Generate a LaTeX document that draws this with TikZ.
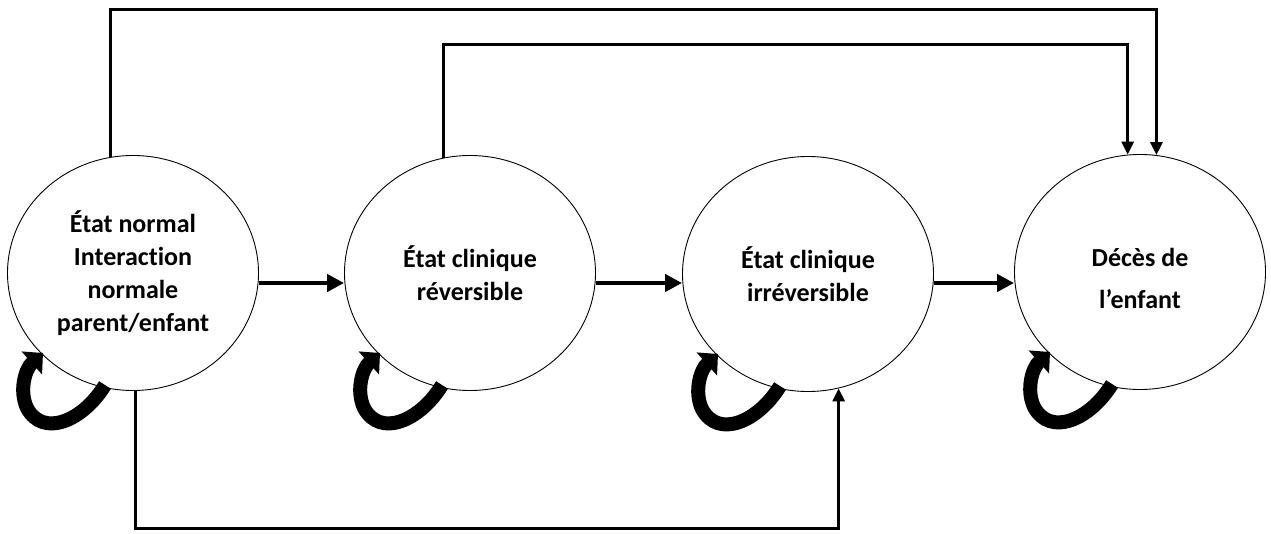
\documentclass[tikz,border=0pt]{standalone}
\usepackage{fontspec}
\setmainfont{Carlito}[Ligatures=NoCommon]
\usetikzlibrary{shapes.geometric,arrows.meta,calc}
\begin{document}
\begin{tikzpicture}[x=1pt,y=-1pt,
  txt/.style={font=\fontsize{26}{33}\selectfont\bfseries,align=center},
  state/.style={draw,ellipse,line width=0.9pt,minimum width=251pt,minimum height=235pt,inner sep=0pt,txt},
  harrow/.style={line width=4.5pt,-{Triangle[width=17pt,length=17pt]}},
  link/.style={line width=3pt,-{Triangle[width=12pt,length=13pt]}},
  selfloop/.style={line width=14pt,-{Triangle[width=30pt,length=15pt]}}]
\useasboundingbox (0,0) rectangle (1271,534);
\node[state] (c1) at (133,273) {État normal\\Interaction\\normale\\parent/enfant};
\node[state] (c2) at (470,273) {État clinique\\réversible};
\node[state] (c3) at (808,274) {État clinique\\irréversible};
\node[state] (c4) at (1140,272) {};
\node[txt,inner sep=0pt] (c4t) at (1140,278.5) {Décès de\\[9pt]l’enfant};
% horizontal arrows
\coordinate (h1) at ($(c1.east)+(0,10)$);
\coordinate (h2) at ($(c2.east)+(0,10)$);
\coordinate (h3) at ($(c3.east)+(0,9)$);
\draw[harrow] (h1) -- (c2.west |- h1);
\draw[harrow] (h2) -- (c3.west |- h2);
\draw[harrow] (h3) -- (c4.west |- h3);
% top connectors
\coordinate (t1) at (0,10);
\coordinate (t2) at (0,45);
\coordinate (b1) at (0,528);
\draw[link] (c1.101) -- (c1.101 |- t1) -- (c4.82.5 |- t1) -- (c4.82.5);
\draw[link] (c2.103.5) -- (c2.103.5 |- t2) -- (c4.96.5 |- t2) -- (c4.96.5);
\draw[link] (c1.-89) -- (c1.-89 |- b1) -- (c3.-75.5 |- b1) -- (c3.-75.5);
% self loops
\foreach \n in {c1,c2,c3,c4}{
  \begin{scope}[shift={(\n.center)}]
    \draw[selfloop] (-28,112) .. controls (-50,148) and (-90,165) .. (-106,135)
      .. controls (-114,118) and (-108,96) .. (-90,80);
  \end{scope}
}
\end{tikzpicture}
\end{document}
